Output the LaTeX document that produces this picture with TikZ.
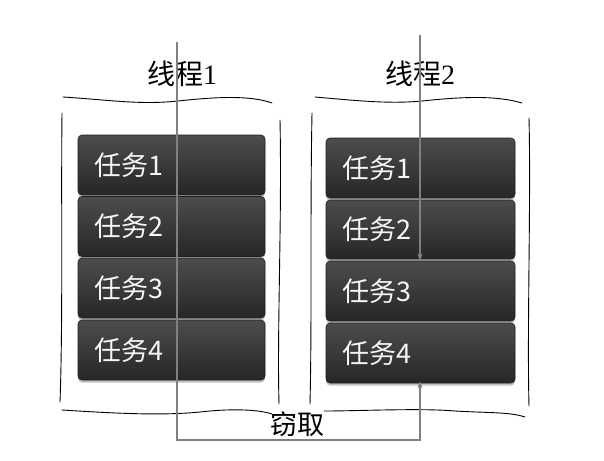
\documentclass[tikz,border=0pt]{standalone}
\usepackage{fontspec}
\newfontfamily\cjk{Noto Sans CJK SC}
\newfontfamily\serifnum{Liberation Serif}
\usetikzlibrary{shadows,arrows.meta}
\begin{document}
\begin{tikzpicture}[x=1pt,y=-1pt,
  task/.style={rounded corners=4pt, top color=black!70, bottom color=black!85,
    draw=black!88, line width=0.6pt, minimum height=#1, text width=157pt, inner xsep=16pt,
    align=left, text=black!4, font=\cjk\fontsize{27}{28}\selectfont,
    drop shadow={shadow xshift=0pt, shadow yshift=-2.5pt, opacity=0.35, fill=black!70}},
  task/.default=60pt,
  hand/.style={line width=0.9pt, black, line cap=round},
  flow/.style={draw=black!50, line width=1.1pt, -{Stealth[length=7pt,width=5pt]}},
  title/.style={font=\fontsize{28}{30}\selectfont}]
\useasboundingbox (0,0) rectangle (604,460);
% left column
\node[task, minimum width=187pt, text width=155pt] (l1) at (171.5,165) {任务1};
\node[task, minimum width=187pt, text width=155pt] (l2) at (171.5,226.5) {任务2};
\node[task, minimum width=187pt, text width=155pt] (l3) at (171.5,288) {任务3};
\node[task, minimum width=187pt, text width=155pt] (l4) at (171.5,350) {任务4};
% right column
\node[task, minimum width=189pt] (r1) at (420.5,168) {任务1};
\node[task, minimum width=189pt, minimum height=59pt] (r2) at (420.5,229.5) {任务2};
\node[task, minimum width=189pt] (r3) at (420.5,291) {任务3};
\node[task, minimum width=189pt] (r4) at (420.5,353) {任务4};
% titles
\node[title] (t1) at (182,74) {{\cjk 线程}{\serifnum 1}};
\node[title] (t2) at (420,74) {{\cjk 线程}{\serifnum 2}};
\node[title, font=\cjk\fontsize{27}{29}\selectfont] (steal) at (297,424) {窃取};
% hand-drawn braces
\draw[hand] (63,97) .. controls (110,100) and (140,105) .. (178,101) .. controls (215,97) and (250,95) .. (272,103);
\draw[hand] (315,97) .. controls (360,101) and (390,104) .. (422,101) .. controls (460,97) and (495,95) .. (522,103);
\draw[hand] (62,113) .. controls (61,200) and (63,320) .. (60,402);
\draw[hand] (280,120) .. controls (282,220) and (277,330) .. (279,404);
\draw[hand] (312,113) .. controls (310,220) and (312,320) .. (310,404);
\draw[hand] (529,118) .. controls (531,200) and (527,330) .. (529,406);
\draw[hand] (62,410) .. controls (110,413) and (160,416) .. (200,412) .. controls (235,408) and (260,410) .. (272,414);
\draw[hand] (324,411) .. controls (360,411) and (420,408) .. (455,411) .. controls (490,413) and (510,412) .. (525,417);
% flows
\coordinate (s1) at (177,42);
\coordinate (c1) at (177,440);
\coordinate (s2) at (420,35);
\draw[flow] (s1) -- (c1) -| ([yshift=2pt]r4.south -| s2);
\draw[flow] (s2) -- (r3.north -| s2);
\end{tikzpicture}
\end{document}
